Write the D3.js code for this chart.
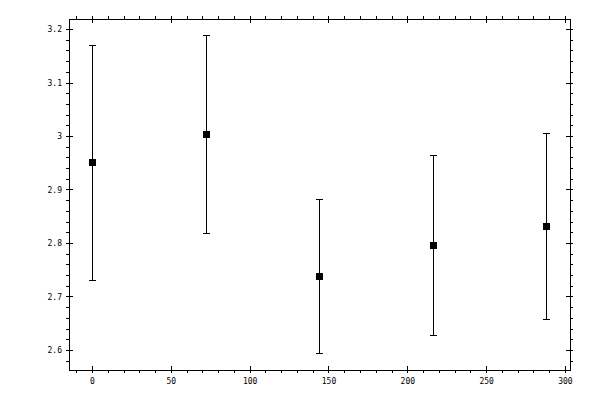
<!DOCTYPE html>
<html>
<head>
<meta charset="utf-8">
<title>Error bars</title>
<script src="https://cdn.jsdelivr.net/npm/d3@7"></script>
<style>
  body { margin: 0; background: #fff; }
  text { font-family: "DejaVu Sans Mono", monospace; font-size: 8px; fill: #000; }
</style>
</head>
<body>
<script>
// data
var xs = [0, 72, 144, 216, 288];
var means = [2.951, 3.004, 2.738, 2.796, 2.831];
var errs = [0.220, 0.185, 0.144, 0.168, 0.174];

// ticks
var xMajor = [0, 50, 100, 150, 200, 250, 300];
var xTickLabels = ["0", "50", "100", "150", "200", "250", "300"];
var xMinor = [-10, 10, 20, 30, 40, 60, 70, 80, 90, 110, 120, 130, 140, 160, 170, 180, 190,
              210, 220, 230, 240, 260, 270, 280, 290];
var yMajor = [2.6, 2.7, 2.8, 2.9, 3.0, 3.1, 3.2];
var yTickLabels = ["2.6", "2.7", "2.8", "2.9", "3", "3.1", "3.2"];
var yMinor = [2.58, 2.62, 2.64, 2.66, 2.68, 2.72, 2.74, 2.76, 2.78, 2.82, 2.84, 2.86, 2.88,
              2.92, 2.94, 2.96, 2.98, 3.02, 3.04, 3.06, 3.08, 3.12, 3.14, 3.16, 3.18];

var svgWidth = 600, svgHeight = 400;
var plotL = 69, plotR = 570, plotT = 19, plotB = 370;

var svg = d3.select('body').append('svg')
    .attr('width', svgWidth)
    .attr('height', svgHeight)
    .attr('shape-rendering', 'crispEdges');

var x = d3.scaleLinear().domain([-14.6, 303.2]).range([plotL, plotR]);
var y = d3.scaleLinear().domain([2.5626, 3.2187]).range([plotB, plotT]);

// frame
svg.append('rect')
    .attr('x', plotL + 0.5).attr('y', plotT + 0.5)
    .attr('width', plotR - plotL).attr('height', plotB - plotT)
    .attr('fill', 'none').attr('stroke', '#000');

// major ticks reach 3px out and 4px in, minor ticks 3px out
function drawAxis(axisFn, scale, major, minor, pos, labels) {
    var g = svg.append('g').attr('transform', pos);
    g.call(axisFn(scale).tickValues(minor).tickSize(3).tickFormat(''));
    var g2 = svg.append('g').attr('transform', pos);
    g2.call(axisFn(scale).tickValues(major).tickSize(3).tickPadding(4)
        .tickFormat(function(d, i) { return labels ? labels[i] : ''; }));
    [g, g2].forEach(function(s) {
        s.select('.domain').remove();
        s.selectAll('line').attr('stroke', '#000');
        s.selectAll('text').attr('font-family', null).attr('font-size', null).attr('fill', null);
    });
    return g2;
}

var gb = drawAxis(d3.axisBottom, x, xMajor, xMinor, 'translate(0,' + plotB + ')', xTickLabels);
gb.selectAll('line').attr('y1', -4);
gb.selectAll('text').attr('dy', '0.71em').attr('y', 8);

var gt = drawAxis(d3.axisTop, x, xMajor, xMinor, 'translate(0,' + plotT + ')', null);
gt.selectAll('line').attr('y1', 4);

var gl = drawAxis(d3.axisLeft, y, yMajor, yMinor, 'translate(' + plotL + ',0)', yTickLabels);
gl.selectAll('line').attr('x1', 4);
gl.selectAll('text').attr('x', -7);

var gr = drawAxis(d3.axisRight, y, yMajor, yMinor, 'translate(' + plotR + ',0)', null);
gr.selectAll('line').attr('x1', -4);

// error bars
var pts = xs.map(function(d, i) { return { x: d, v: means[i], e: errs[i] }; });
var bars = svg.append('g').attr('stroke', '#000');

bars.selectAll('line.bar').data(pts).enter().append('line')
    .attr('class', 'bar')
    .attr('x1', function(d) { return Math.round(x(d.x)) + 0.5; })
    .attr('x2', function(d) { return Math.round(x(d.x)) + 0.5; })
    .attr('y1', function(d) { return Math.round(y(d.v + d.e)) + 0.5; })
    .attr('y2', function(d) { return Math.round(y(d.v - d.e)) + 0.5; });

[1, -1].forEach(function(sign) {
    bars.selectAll('line.cap' + (sign > 0 ? 'hi' : 'lo')).data(pts).enter().append('line')
        .attr('class', 'cap' + (sign > 0 ? 'hi' : 'lo'))
        .attr('x1', function(d) { return Math.round(x(d.x)) - 3; })
        .attr('x2', function(d) { return Math.round(x(d.x)) + 4; })
        .attr('y1', function(d) { return Math.round(y(d.v + sign * d.e)) + 0.5; })
        .attr('y2', function(d) { return Math.round(y(d.v + sign * d.e)) + 0.5; });
});

// markers
svg.append('g').selectAll('rect').data(pts).enter().append('rect')
    .attr('x', function(d) { return Math.round(x(d.x)) - 3; })
    .attr('y', function(d) { return Math.round(y(d.v)) - 3; })
    .attr('width', 7).attr('height', 7)
    .attr('fill', '#000');
</script>
</body>
</html>
